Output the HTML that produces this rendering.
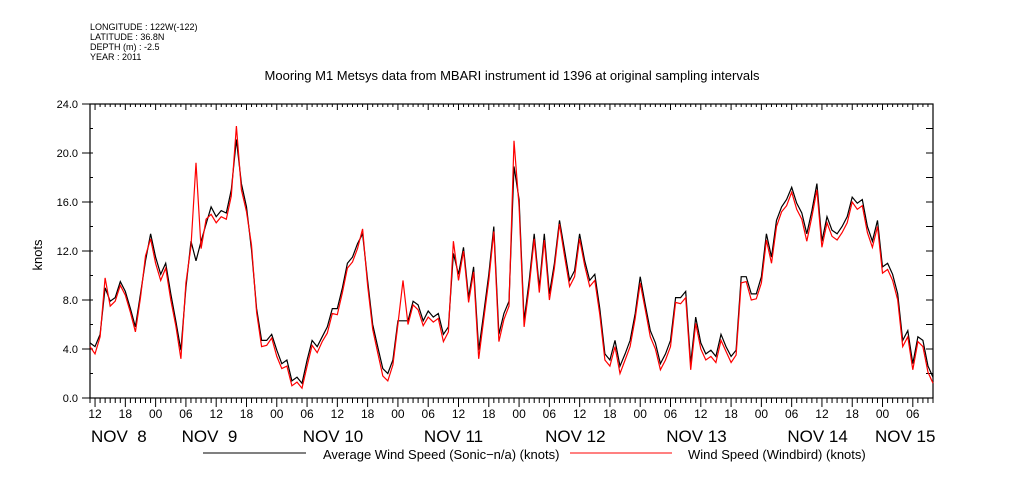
<!DOCTYPE html>
<html><head><meta charset="utf-8"><style>
body{margin:0;background:#fff;}
svg{display:block;font-family:"Liberation Sans",sans-serif;}
</style></head><body>
<svg id="chart" width="1009" height="504" viewBox="0 0 1009 504">
<g font-size="9" fill="#000">
<text x="90" y="30">LONGITUDE : 122W(-122)</text>
<text x="90" y="40">LATITUDE : 36.8N</text>
<text x="90" y="50">DEPTH (m) : -2.5</text>
<text x="90" y="60">YEAR : 2011</text>
</g>
<text x="512" y="80" text-anchor="middle" font-size="13">Mooring M1 Metsys data from MBARI instrument id 1396 at original sampling intervals</text>
<text transform="translate(42,255) rotate(-90)" text-anchor="middle" font-size="13">knots</text>
<g id="axes"></g>
<g id="series"></g>
<g>
<line x1="203" y1="453" x2="306" y2="453" stroke="#000"/>
<text x="323" y="459" font-size="13">Average Wind Speed (Sonic−n/a) (knots)</text>
<line x1="570" y1="453" x2="672" y2="453" stroke="#f00"/>
<text x="688" y="459" font-size="13">Wind Speed (Windbird) (knots)</text>
</g>
</svg>
<script>
// hours since Nov 8 11:00
const sonicValues=[4.5,4.2,5.2,9.0,7.9,8.2,9.5,8.7,7.3,5.8,8.5,11.2,13.4,11.5,10.1,11.0,8.5,6.3,3.9,9.0,12.8,11.2,12.8,14.2,15.6,14.8,15.3,15.1,17.0,21.1,17.5,15.6,12.1,7.3,4.7,4.7,5.2,3.9,2.8,3.1,1.4,1.7,1.2,3.1,4.7,4.2,5.0,5.8,7.3,7.3,9.0,11.0,11.5,12.6,13.4,9.6,6.0,4.2,2.4,2.0,3.1,6.3,6.3,6.3,7.9,7.6,6.3,7.1,6.6,6.9,5.2,5.8,11.8,10.1,12.3,8.2,10.7,3.9,6.9,10.1,14.0,5.2,6.9,7.9,18.9,16.2,6.3,9.6,13.4,9.0,13.4,8.5,11.0,14.5,12.1,9.6,10.4,13.4,11.2,9.6,10.1,7.3,3.6,3.1,4.7,2.6,3.6,4.7,6.9,9.9,7.6,5.5,4.5,2.8,3.6,4.7,8.2,8.2,8.7,2.8,6.6,4.5,3.6,3.9,3.4,5.2,4.2,3.4,3.9,9.9,9.9,8.5,8.5,9.9,13.4,11.5,14.5,15.6,16.2,17.2,15.9,15.1,13.4,15.3,17.5,12.8,14.8,13.7,13.4,14.0,14.8,16.4,15.9,16.2,14.0,12.8,14.5,10.7,11.0,10.1,8.5,4.7,5.5,2.8,5.0,4.7,2.6,1.7];
const windbirdValues=[4.2,3.6,5.0,9.8,7.5,7.9,9.2,8.4,7.0,5.4,8.2,11.6,13.0,11.0,9.6,10.6,8.0,5.9,3.2,9.4,12.4,19.2,12.2,14.6,15.0,14.3,14.8,14.6,16.5,22.2,17.0,15.2,12.5,7.0,4.2,4.3,4.9,3.4,2.4,2.6,1.0,1.3,0.8,2.6,4.3,3.7,4.6,5.3,6.9,6.8,8.6,10.6,11.1,12.2,13.8,9.2,5.6,3.7,1.8,1.4,2.7,6.0,9.6,6.0,7.6,7.2,5.9,6.6,6.2,6.5,4.6,5.4,12.8,9.6,12.0,7.8,10.3,3.2,6.4,9.6,13.6,4.6,6.4,7.5,21.0,15.6,5.8,9.1,13.0,8.6,12.9,8.0,10.6,14.2,11.6,9.1,9.9,13.0,10.8,9.1,9.6,6.8,3.1,2.6,4.2,2.0,3.1,4.2,6.5,9.4,7.2,5.0,4.0,2.3,3.1,4.2,7.8,7.7,8.2,2.3,6.1,4.0,3.1,3.4,2.9,4.7,3.8,2.9,3.5,9.4,9.5,8.0,8.1,9.4,12.9,11.0,14.0,15.2,15.7,16.8,15.4,14.6,12.8,14.8,17.0,12.3,14.3,13.2,12.9,13.5,14.3,16.0,15.4,15.7,13.5,12.3,14.0,10.2,10.5,9.6,8.0,4.2,5.0,2.3,4.6,4.2,2.1,1.2];
const yTickLabels=["0.0","4.0","8.0","12.0","16.0","20.0","24.0"];
const hourLabels=["00","06","12","18"];
const dayLabels=["NOV  8","NOV  9","NOV 10","NOV 11","NOV 12","NOV 13","NOV 14","NOV 15"];

const NS="http://www.w3.org/2000/svg";
const X0=90,X1=933,Y0=398,Y1=104,H=167,VMAX=24;
const xs=h=>X0+(X1-X0)*h/H;
const ys=v=>Y0-(Y0-Y1)*v/VMAX;
function mk(tag,attrs,parent){const e=document.createElementNS(NS,tag);for(const k in attrs)e.setAttribute(k,attrs[k]);parent.appendChild(e);return e;}
const axes=document.getElementById('axes');
const frame=mk('rect',{x:X0,y:Y1,width:X1-X0,height:Y0-Y1,fill:'none',stroke:'#000','stroke-width':1.2},axes);


for(let v=0;v<=VMAX;v+=2){
  const y=ys(v);
  const major=v%4===0;
  const t=mk('line',{x1:major?X0-8:X0,y1:y,x2:X0+3,y2:y,stroke:'#000'},axes);
  
  
  const r=mk('line',{x1:X1-7,y1:y,x2:X1,y2:y,stroke:'#000'},axes);
  
  
  if(major){
    const l=mk('text',{x:X0-12,y:y+4,'text-anchor':'end','font-size':11},axes);
    l.textContent=yTickLabels[v/4];
    
    
  }
}
for(let h=0;h<=H;h++){
  const x=xs(h),hod=(h+11)%24,major=hod%6===0;
  const b=mk('line',{x1:x,y1:Y0,x2:x,y2:Y0+(major?9:5),stroke:'#000'},axes);
  
  
  const t=mk('line',{x1:x,y1:Y1,x2:x,y2:Y1+(major?6:3),stroke:'#000'},axes);
  
  
  if(major){
    const l=mk('text',{x:x,y:418,'text-anchor':'middle','font-size':12},axes);
    l.textContent=hourLabels[hod/6];
    
    
  }
}
dayLabels.forEach((d,i)=>{
  let x=xs(-11+24*i)+26;
  x=Math.max(91,Math.min(875,x));
  const l=mk('text',{x:x,y:442,'font-size':17},axes);
  l.style.whiteSpace='pre';
  l.textContent=d;
  
  
});
const series=document.getElementById('series');
function draw(vals,color,name){
  const pts=vals.map((v,i)=>xs(i).toFixed(1)+','+ys(v).toFixed(1)).join(' ');
  const p=mk('polyline',{points:pts,fill:'none',stroke:color,'stroke-width':1.2},series);
  
  
}
draw(sonicValues,'#000','series-average-wind-speed');
draw(windbirdValues,'#f00','series-windbird-wind-speed');
</script>
</body></html>
